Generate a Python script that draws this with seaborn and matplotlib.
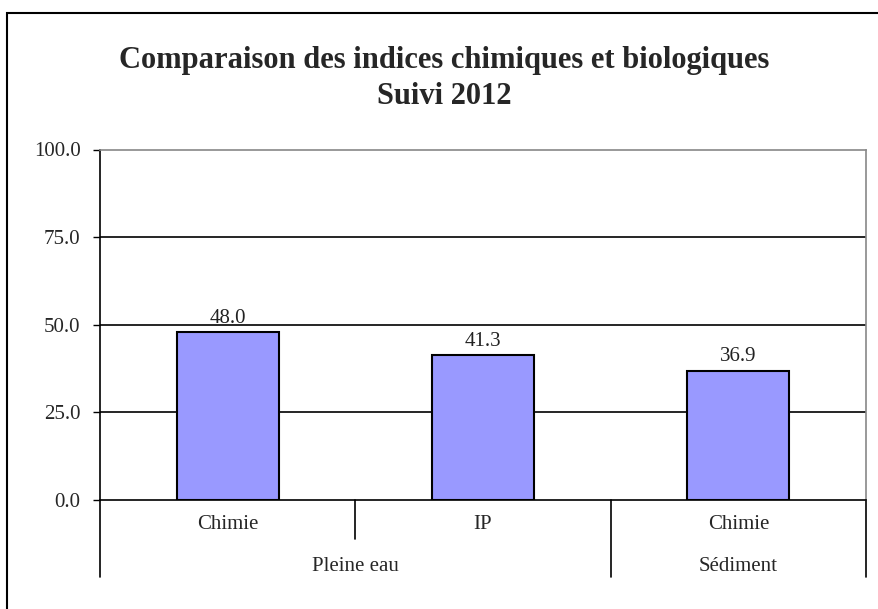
import matplotlib as mpl
mpl.use("Agg")
import matplotlib.pyplot as plt
import numpy as np
import pandas as pd
import seaborn as sns
from matplotlib.patches import Rectangle

# data
groups = ["Pleine eau", "Pleine eau", "Sédiment"]
indices = ["Chimie", "IP", "Chimie"]
values = [48.0, 41.3, 36.9]
yticks = [0, 25, 50, 75, 100]

title = "Comparaison des indices chimiques et biologiques\nSuivi 2012"

sns.set_theme(style="white")
plt.rcParams["font.family"] = ["Liberation Serif", "DejaVu Serif"]

data = pd.DataFrame({"group": groups, "index": indices, "value": values})
data["cat"] = [f"{g}|{i}" for g, i in zip(groups, indices)]

fig = plt.figure(figsize=(8.79, 6.09), dpi=100)
ax = fig.add_axes([100 / 879, 1 - 500 / 609, 766 / 879, 350.5 / 609])

sns.barplot(
    data=data,
    x="cat",
    y="value",
    order=list(data["cat"]),
    color="#9999FF",
    saturation=1,
    edgecolor="black",
    linewidth=1.5,
    width=0.4,
    ax=ax,
    zorder=3,
)

ax.set_ylim(0, 100)
ax.set_xlim(-0.5, len(values) - 0.5)
ax.set_yticks(yticks)
ax.set_yticklabels([f"{t:.1f}" for t in yticks], fontsize=15)
ax.tick_params(axis="y", direction="out", length=5, width=1, color="black", left=True, pad=9)
for t in yticks[1:-1]:
    ax.axhline(t, color="black", lw=1.2, zorder=1)

# value labels
for i, v in enumerate(values):
    ax.annotate(f"{v:.1f}", (i, v), xytext=(0, 3), textcoords="offset points",
                ha="center", va="bottom", fontsize=15, color="#222222")

# first level category labels
ax.set_xticks(range(len(values)))
ax.set_xticklabels(indices, fontsize=15)
ax.tick_params(axis="x", length=0, pad=11, bottom=False)
ax.set_xlabel("")
ax.set_ylabel("")

# spines
ax.spines["left"].set_color("black")
ax.spines["bottom"].set_color("black")
ax.spines["left"].set_linewidth(1.2)
ax.spines["bottom"].set_linewidth(1.2)
for s in ["top", "right"]:
    ax.spines[s].set_color("#888888")
    ax.spines[s].set_linewidth(1.2)

# multi-level axis dividers and group labels
trans = ax.get_xaxis_transform()
n = len(values)
for k in range(n + 1):
    x = k - 0.5
    if k in (0, n) or groups[k] != groups[k - 1]:
        ax.plot([x, x], [0, -0.221], transform=trans, color="black", lw=1.2, clip_on=False)
    else:
        ax.plot([x, x], [0, -0.112], transform=trans, color="black", lw=1.2, clip_on=False)

start = 0
for k in range(1, n + 1):
    if k == n or groups[k] != groups[start]:
        center = (start + k - 1) / 2
        ax.text(center, -0.19, groups[start], transform=trans, ha="center",
                va="center", fontsize=15)
        start = k

fig.suptitle(title, x=444 / 879, y=1 - 46 / 609, va="top", fontsize=22,
             fontweight="bold", linespacing=1.3)

# outer chart border
fig.patches.append(Rectangle((7 / 879, -0.1), 1.5, 1 - 13 / 609 + 0.1,
                             transform=fig.transFigure, fill=False,
                             edgecolor="black", lw=1.5))

plt.savefig("out.png", dpi=100)
